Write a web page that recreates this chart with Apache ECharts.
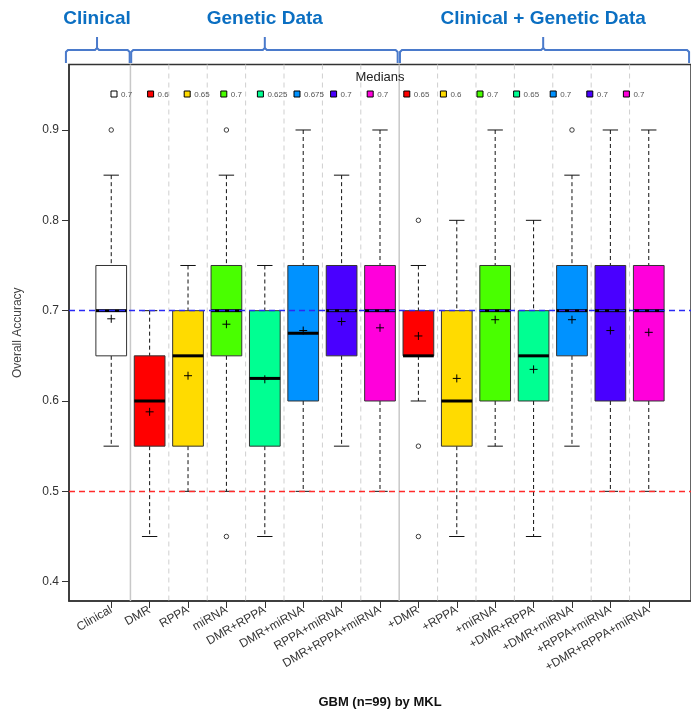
<!DOCTYPE html>
<html>
<head>
<meta charset="utf-8">
<script src="https://cdn.jsdelivr.net/npm/echarts@6/dist/echarts.min.js"></script>
<style>
  html, body { margin: 0; padding: 0; background: #ffffff; }
  #chart { width: 691px; height: 715px; }
</style>
</head>
<body>
<div id="chart"></div>
<script>
// ---- data: GBM (n=99) accuracy by MKL, per feature set ----
const categories = ['Clinical', 'DMR', 'RPPA', 'miRNA', 'DMR+RPPA', 'DMR+miRNA', 'RPPA+miRNA', 'DMR+RPPA+miRNA',
  '+DMR', '+RPPA', '+miRNA', '+DMR+RPPA', '+DMR+miRNA', '+RPPA+miRNA', '+DMR+RPPA+miRNA'];
const whiskerLow  = [0.55, 0.45, 0.50, 0.50, 0.45, 0.50, 0.55, 0.50, 0.60, 0.45, 0.55, 0.45, 0.55, 0.50, 0.50];
const quartile1   = [0.65, 0.55, 0.55, 0.65, 0.55, 0.60, 0.65, 0.60, 0.65, 0.55, 0.60, 0.60, 0.65, 0.60, 0.60];
const medians     = [0.70, 0.60, 0.65, 0.70, 0.625, 0.675, 0.70, 0.70, 0.65, 0.60, 0.70, 0.65, 0.70, 0.70, 0.70];
const quartile3   = [0.75, 0.65, 0.70, 0.75, 0.70, 0.75, 0.75, 0.75, 0.70, 0.70, 0.75, 0.70, 0.75, 0.75, 0.75];
const whiskerHigh = [0.85, 0.70, 0.75, 0.85, 0.75, 0.90, 0.85, 0.90, 0.75, 0.80, 0.90, 0.80, 0.85, 0.90, 0.90];
const means       = [0.691, 0.588, 0.628, 0.685, 0.624, 0.678, 0.688, 0.681, 0.672, 0.625, 0.690, 0.635, 0.690, 0.678, 0.676];
// outliers as [category index, accuracy]
const outliers = [[0, 0.90], [3, 0.90], [3, 0.45], [8, 0.80], [8, 0.55], [8, 0.45], [12, 0.90]];
const yTicks = [0.4, 0.5, 0.6, 0.7, 0.8, 0.9];
const referenceLevels = [0.7, 0.5];
const groupHeaders = ['Clinical', 'Genetic Data', 'Clinical + Genetic Data'];

// ---- styles ----
const rainbow7 = ['#FF0000', '#FFDB00', '#49FF00', '#00FF92', '#0092FF', '#4900FF', '#FF00DB'];
const boxColors = ['#FFFFFF'].concat(rainbow7, rainbow7);
const referenceColors = ['#2a2af5', '#ff2a2a'];
const FONT = '"Liberation Sans", Arial, sans-serif';
const positions = categories.map((_, i) => i + 1);

const boxData = categories.map((_, i) => [i + 1, whiskerLow[i], quartile1[i], medians[i], quartile3[i], whiskerHigh[i]]);
const meanData = means.map((m, i) => [i + 1, m]);
const outlierData = outliers.map(o => [o[0] + 1, o[1]]);
const referenceData = referenceLevels.map(v => [1, v]);
const separatorData = positions.slice(0, -1).map(p => [p + 0.5, 0.7]);

function renderBox(params, api) {
  const i = params.dataIndex;
  const x = api.value(0);
  const lo = api.coord([x, api.value(1)]);
  const b1 = api.coord([x, api.value(2)]);
  const md = api.coord([x, api.value(3)]);
  const b3 = api.coord([x, api.value(4)]);
  const hi = api.coord([x, api.value(5)]);
  const half = api.size([0.8, 0])[0] / 2;
  const cap = half / 2;
  const cx = lo[0];
  const dashed = { stroke: '#111', lineWidth: 1, lineDash: [4, 3] };
  const solid = { stroke: '#111', lineWidth: 1 };
  return {
    type: 'group',
    children: [
      { type: 'line', shape: { x1: cx, y1: hi[1], x2: cx, y2: b3[1] }, style: dashed },
      { type: 'line', shape: { x1: cx, y1: b1[1], x2: cx, y2: lo[1] }, style: dashed },
      { type: 'line', shape: { x1: cx - cap, y1: hi[1], x2: cx + cap, y2: hi[1] }, style: solid },
      { type: 'line', shape: { x1: cx - cap, y1: lo[1], x2: cx + cap, y2: lo[1] }, style: solid },
      { type: 'rect', shape: { x: cx - half, y: b3[1], width: 2 * half, height: b1[1] - b3[1] },
        style: { fill: boxColors[i], stroke: '#333', lineWidth: 1 } },
      { type: 'line', shape: { x1: cx - half, y1: md[1], x2: cx + half, y2: md[1] },
        style: { stroke: '#000', lineWidth: 3 } }
    ]
  };
}

function renderMean(params, api) {
  const p = api.coord([api.value(0), api.value(1)]);
  const a = 4;
  const st = { stroke: '#000', lineWidth: 1 };
  return {
    type: 'group',
    children: [
      { type: 'line', shape: { x1: p[0] - a, y1: p[1], x2: p[0] + a, y2: p[1] }, style: st },
      { type: 'line', shape: { x1: p[0], y1: p[1] - a, x2: p[0], y2: p[1] + a }, style: st }
    ]
  };
}

// horizontal reference lines across the full plotting area (snapped to the pixel grid)
function renderReference(params, api) {
  const cs = params.coordSys;
  const y = Math.floor(api.coord([api.value(0), api.value(1)])[1]) + 0.5;
  return {
    type: 'line',
    shape: { x1: cs.x, y1: y, x2: cs.x + cs.width, y2: y },
    style: { stroke: referenceColors[params.dataIndex], lineWidth: 1.3, lineDash: [6, 4] }
  };
}

// vertical separators between boxes: solid between groups, dashed otherwise
function renderSeparator(params, api) {
  const cs = params.coordSys;
  const x = api.coord([api.value(0), api.value(1)])[0];
  const groupEdge = params.dataIndex === 0 || params.dataIndex === 7;
  return {
    type: 'line',
    shape: { x1: x, y1: cs.y, x2: x, y2: cs.y + cs.height },
    style: groupEdge
      ? { stroke: '#c8c8c8', lineWidth: 1.5 }
      : { stroke: '#cfcfcf', lineWidth: 1, lineDash: [5, 4] }
  };
}

const chart = echarts.init(document.getElementById('chart'), null, { renderer: 'canvas' });

const option = {
  animation: false,
  backgroundColor: '#ffffff',
  textStyle: { fontFamily: FONT },
  grid: {
    left: 69, top: 64.5, width: 623.7, height: 536.5,
    show: true, borderColor: '#333', borderWidth: 1.5, backgroundColor: 'transparent'
  },
  xAxis: {
    type: 'value', min: -0.1, max: 16.1,
    axisLine: { show: true, onZero: false, lineStyle: { color: '#333', width: 1.5 } },
    axisTick: { show: true, customValues: positions, length: 7, lineStyle: { color: '#333', width: 1 } },
    axisLabel: {
      show: true, customValues: positions, rotate: 30, margin: 8,
      formatter: v => categories[Math.round(v) - 1] || '',
      color: '#333', fontSize: 12, fontFamily: FONT
    },
    splitLine: { show: false },
    name: 'GBM (n=99) by MKL', nameLocation: 'middle', nameGap: 95,
    nameTextStyle: { fontWeight: 'bold', fontSize: 13, color: '#111', fontFamily: FONT }
  },
  yAxis: {
    type: 'value', min: 0.3786, max: 0.9725,
    axisLine: { show: true, onZero: false, lineStyle: { color: '#333', width: 1.5 } },
    axisTick: { show: true, customValues: yTicks, length: 7, lineStyle: { color: '#333', width: 1 } },
    axisLabel: {
      show: true, customValues: yTicks, margin: 10,
      formatter: v => Number(v).toFixed(1), color: '#333', fontSize: 12, fontFamily: FONT
    },
    splitLine: { show: false },
    name: 'Overall Accuracy', nameLocation: 'middle', nameGap: 45,
    nameTextStyle: { fontSize: 12, color: '#444', fontFamily: FONT }
  },
  series: [
    {
      type: 'custom', name: 'separators', z: 1, silent: true, renderItem: renderSeparator, data: separatorData,
      encode: { x: 0, y: 1 }
    },
    {
      type: 'custom', name: 'boxes', z: 2, renderItem: renderBox, data: boxData,
      encode: { x: 0, y: [1, 2, 3, 4, 5] }
    },
    {
      type: 'custom', name: 'means', z: 3, renderItem: renderMean, data: meanData,
      encode: { x: 0, y: 1 }
    },
    {
      type: 'scatter', name: 'outliers', z: 3, data: outlierData, symbol: 'circle', symbolSize: 4.5,
      itemStyle: { color: '#ffffff', borderColor: '#111', borderWidth: 1 }
    },
    {
      type: 'custom', name: 'reference', z: 5, silent: true, renderItem: renderReference, data: referenceData,
      encode: { x: 0, y: 1 }
    }
  ]
};
chart.setOption(option);

// ---- group headers with braces ----
const BLUE_TEXT = '#0b6fc2';
const BLUE_LINE = '#4a7acb';
// brace spans in axis units: [left end, right end, spike]
const braceSpans = [[-0.18, 1.48, 0.63], [1.52, 8.46, 5.0], [8.52, 16.05, 12.25]];
const graphics = [];
const yL = 50, yEnd = 63, yTop = 37, r = 2;
braceSpans.forEach((s, k) => {
  const x1 = chart.convertToPixel({ gridIndex: 0 }, [s[0], 0.9])[0];
  const x2 = chart.convertToPixel({ gridIndex: 0 }, [s[1], 0.9])[0];
  const mid = chart.convertToPixel({ gridIndex: 0 }, [s[2], 0.9])[0];
  const braceStyle = { fill: 'none', stroke: BLUE_LINE, lineWidth: 2 };
  graphics.push({
    type: 'polyline', z: 10,
    shape: { points: [[x1, yEnd], [x1, yL + r], [x1 + r, yL], [mid - r, yL], [mid, yL - r], [mid, yTop]] },
    style: braceStyle
  });
  graphics.push({
    type: 'polyline', z: 10,
    shape: { points: [[mid, yL - r], [mid + r, yL], [x2 - r, yL], [x2, yL + r], [x2, yEnd]] },
    style: braceStyle
  });
  graphics.push({
    type: 'text', x: mid, y: 19, z: 10,
    style: { text: groupHeaders[k], fill: BLUE_TEXT, font: 'bold 19px ' + FONT, textAlign: 'center', textVerticalAlign: 'middle' }
  });
});

// ---- "Medians" key ----
graphics.push({
  type: 'text', x: 380, y: 77, z: 10,
  style: { text: 'Medians', fill: '#222', font: '13px ' + FONT, textAlign: 'center', textVerticalAlign: 'middle' }
});
medians.forEach((m, i) => {
  const cx = 114 + 36.6 * i;
  graphics.push({
    type: 'rect', z: 10, shape: { x: cx - 3, y: 91, width: 6, height: 6 },
    style: { fill: boxColors[i], stroke: '#000', lineWidth: 1 }
  });
  graphics.push({
    type: 'text', x: cx + 7, y: 94.5, z: 10,
    style: { text: String(m), fill: '#555', font: '8px ' + FONT, textAlign: 'left', textVerticalAlign: 'middle' }
  });
});
chart.setOption({ graphic: graphics });
</script>
</body>
</html>
